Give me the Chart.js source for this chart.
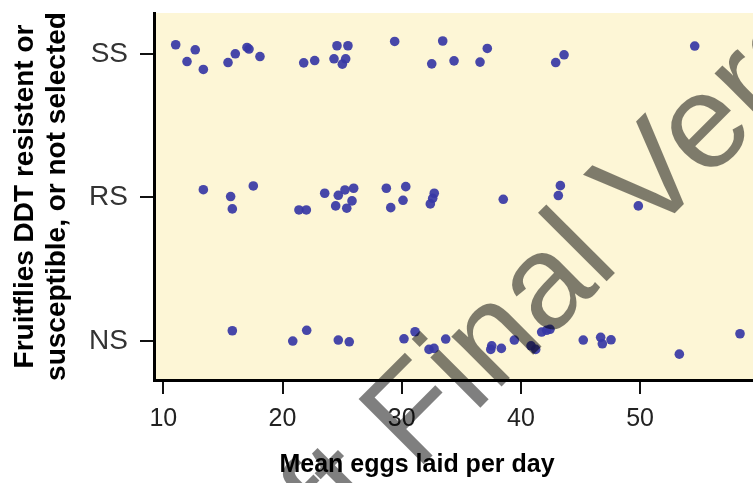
<!DOCTYPE html>
<html>
<head>
<meta charset="utf-8">
<script src="https://cdn.jsdelivr.net/npm/chart.js@4.4.1/dist/chart.umd.min.js"></script>
<style>
html,body{margin:0;padding:0;background:#fff;}
canvas{display:block;}
</style>
</head>
<body>
<canvas id="c" width="753" height="483"></canvas>
<script>
// ---- data ----
const yCategories = ['NS', 'RS', 'SS'];          // bottom to top
const xTicks = [10, 20, 30, 40, 50];

// SS group: mean eggs per day and vertical jitter around the category line
const ssEggs   = [11.04, 11.99, 12.68, 13.36, 15.43, 16.04, 17.02, 17.19, 18.11, 21.78, 22.70, 24.32, 24.57, 25.49, 25.30, 25.02, 29.41, 32.52, 33.44, 34.39, 36.57, 37.18, 42.92, 43.62, 54.58];
const ssJitter = [0.063, -0.054, 0.028, -0.109, -0.061, 0.000, 0.044, 0.033, -0.019, -0.063, -0.047, -0.035, 0.056, 0.056, -0.035, -0.072, 0.086, -0.070, 0.089, -0.049, -0.058, 0.037, -0.061, -0.007, 0.054];

// RS group
const rsEggs   = [13.36, 15.65, 15.79, 17.55, 21.38, 22.00, 23.54, 24.46, 24.68, 25.24, 25.97, 25.83, 25.39, 28.71, 30.34, 30.11, 29.08, 32.73, 32.60, 32.40, 38.52, 43.31, 43.14, 49.85];
const rsJitter = [0.054, 0.006, -0.080, 0.080, -0.087, -0.087, 0.029, -0.059, 0.015, 0.052, 0.064, -0.024, -0.075, 0.064, 0.075, -0.020, -0.071, 0.029, -0.006, -0.045, -0.013, 0.082, 0.013, -0.059];

// NS group
const nsEggs   = [15.79, 20.86, 22.03, 24.68, 25.60, 30.19, 31.12, 32.29, 32.71, 33.69, 37.55, 37.47, 38.36, 39.45, 40.85, 41.24, 41.74, 42.16, 42.44, 45.23, 46.69, 46.83, 47.56, 53.29, 58.38];
const nsJitter = [0.072, 0.000, 0.075, 0.007, -0.005, 0.016, 0.065, -0.058, -0.051, 0.014, -0.033, -0.058, -0.051, 0.007, -0.033, -0.058, 0.063, 0.075, 0.082, 0.007, 0.026, -0.019, 0.009, -0.091, 0.051];

const xTitle = 'Mean eggs laid per day';
const yTitle = ['Fruitflies DDT resistent or', 'susceptible, or not selected'];
const watermark = 'Draft Final Version';

// ---- build points ----
function pts(eggs, jit, cat) {
  const base = yCategories.indexOf(cat) + 1;
  return eggs.map((e, i) => ({x: e, y: base + jit[i]}));
}

const FONT = '"Liberation Sans", Arial, Helvetica, sans-serif';
const dotColor = 'rgba(55,55,165,0.92)';

const bgPlugin = {
  id: 'bg',
  beforeDraw(chart) {
    const {ctx, chartArea: a} = chart;
    ctx.save();
    ctx.fillStyle = '#fdf6d6';
    ctx.fillRect(a.left, a.top, a.right - a.left, a.bottom - a.top);
    ctx.restore();
  }
};

const xTitlePlugin = {
  id: 'xtitle',
  afterDraw(chart) {
    const ctx = chart.ctx;
    ctx.save();
    ctx.font = 'bold 25px ' + FONT;
    ctx.fillStyle = '#000';
    ctx.textAlign = 'center';
    ctx.textBaseline = 'alphabetic';
    ctx.fillText(xTitle, 417, 472);
    ctx.restore();
  }
};

const wmPlugin = {
  id: 'wm',
  afterDraw(chart) {
    const ctx = chart.ctx;
    ctx.save();
    ctx.font = '134px ' + FONT;
    ctx.fillStyle = 'rgba(0,0,0,0.5)';
    ctx.textBaseline = 'alphabetic';
    ctx.translate(416, 472);
    ctx.rotate(-Math.PI / 4);
    const pre = ctx.measureText('Draft ').width;
    ctx.fillText(watermark, -pre, 0);
    ctx.restore();
  }
};

const mkDs = (label, data) => ({
  label, data,
  backgroundColor: dotColor,
  borderWidth: 0,
  pointRadius: 4.8,
  pointHoverRadius: 4.8,
  clip: false
});

new Chart(document.getElementById('c'), {
  type: 'scatter',
  data: {
    datasets: [
      mkDs('SS', pts(ssEggs, ssJitter, 'SS')),
      mkDs('RS', pts(rsEggs, rsJitter, 'RS')),
      mkDs('NS', pts(nsEggs, nsJitter, 'NS'))
    ]
  },
  options: {
    responsive: false,
    animation: false,
    layout: {autoPadding: false, padding: {top: 13, left: 0, right: 0, bottom: 0}},
    plugins: {legend: {display: false}, tooltip: {enabled: false}},
    scales: {
      x: {
        type: 'linear',
        min: 9.22,
        max: 59.47,
        afterBuildTicks: s => { s.ticks = xTicks.map(v => ({value: v})); },
        afterFit: s => { s.height = 103; s.paddingLeft = 0; s.paddingRight = 0; },
        ticks: {font: {family: FONT, size: 25}, color: '#222', padding: 10, maxRotation: 0},
        grid: {drawOnChartArea: false, drawTicks: true, tickLength: 14, color: '#111', lineWidth: 2},
        border: {display: true, color: '#000', width: 3},
        title: {display: false}
      },
      y: {
        type: 'linear',
        min: 0.729,
        max: 3.284,
        afterBuildTicks: s => { s.ticks = yCategories.map((c, i) => ({value: i + 1})); },
        afterFit: s => { s.width = 154; s.paddingTop = 0; s.paddingBottom = 0; },
        ticks: {font: {family: FONT, size: 28}, color: '#333', padding: 12,
                callback: v => yCategories[Math.round(v) - 1]},
        grid: {drawOnChartArea: false, drawTicks: true, tickLength: 14, color: '#111', lineWidth: 2},
        border: {display: true, color: '#000', width: 3},
        title: {display: true, text: yTitle, color: '#000',
                font: {family: FONT, size: 28, weight: 'bold', lineHeight: 32 / 28}, padding: {top: 9, bottom: 0}}
      }
    }
  },
  plugins: [bgPlugin, xTitlePlugin, wmPlugin]
});
</script>
</body>
</html>
